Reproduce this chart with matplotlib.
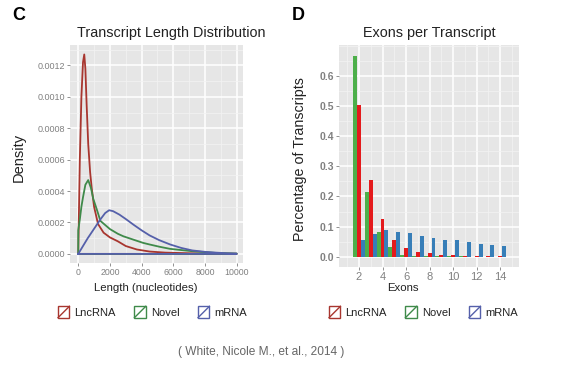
import matplotlib
matplotlib.use("Agg")
import matplotlib.pyplot as plt
from matplotlib.patches import Rectangle
from matplotlib.lines import Line2D
from matplotlib.legend_handler import HandlerBase
from matplotlib.ticker import MultipleLocator, FixedLocator
import numpy as np

plt.rcParams['font.family'] = ['Liberation Sans', 'DejaVu Sans']

# ---------------- data ----------------
series_names = ["LncRNA", "Novel", "mRNA"]

lnc_len_x = [0, 50, 100, 200, 300, 380, 450, 530, 630, 750, 850, 1000, 1250, 1600,
             2000, 2500, 3000, 3700, 4500, 5500, 7000, 8500, 10000]
lnc_len_y = [0, 0.0003, 0.0006, 0.00100, 0.00122, 0.00127, 0.00118, 0.00095, 0.00070,
             0.00052, 0.00042, 0.00030, 0.00019, 0.000135, 0.000105, 0.00008, 0.00005,
             0.000028, 0.000015, 0.000008, 0.000004, 0.000002, 0.000001]

novel_len_x = [0, 0, 100, 200, 300, 450, 630, 800, 950, 1150, 1400, 2000, 2500, 2850,
               3500, 4100, 4500, 5150, 5800, 7200, 8700, 10000]
novel_len_y = [0, 0.00015, 0.00022, 0.00030, 0.00036, 0.00044, 0.00047, 0.00042,
               0.00035, 0.00029, 0.00021, 0.000158, 0.000128, 0.000112, 0.00009, 0.00007,
               0.00006, 0.000045, 0.000032, 0.000017, 0.000006, 0.000002]

mrna_len_x = [0, 300, 600, 1000, 1400, 1700, 1950, 2200, 2600, 3000, 3500, 4000, 4500,
              5100, 5800, 6500, 7200, 8000, 8700, 9400, 10000]
mrna_len_y = [0, 0.00005, 0.0001, 0.00016, 0.00022, 0.00026, 0.000278, 0.000272,
              0.00025, 0.000222, 0.000185, 0.00015, 0.000118, 0.000088, 0.00006,
              0.000038, 0.000022, 0.000013, 0.000008, 0.000004, 0.000002]

exons = [2, 3, 4, 5, 6, 7, 8, 9, 10, 11, 12, 13, 14]
novel_exon_pct = [0.666, 0.214, 0.082, 0.033, 0.006, 0.004, 0.002, 0.001, 0.001,
                  0.001, 0.0005, 0.0005, 0.0005]
lnc_exon_pct = [0.502, 0.256, 0.126, 0.057, 0.028, 0.017, 0.013, 0.006, 0.005,
                0.003, 0.002, 0.002, 0.001]
mrna_exon_pct = [0.055, 0.075, 0.088, 0.082, 0.078, 0.069, 0.061, 0.057, 0.054,
                 0.048, 0.042, 0.038, 0.034]

len_xticks = [0, 2000, 4000, 6000, 8000, 10000]
len_yticks = [0.0, 0.0002, 0.0004, 0.0006, 0.0008, 0.0010, 0.0012]
exon_xticks = [2, 4, 6, 8, 10, 12, 14]
exon_yticks = [0.0, 0.1, 0.2, 0.3, 0.4, 0.5, 0.6]

# ---------------- style ----------------
line_cols = ["#a8362f", "#3f8a4a", "#5560aa"]
bar_cols = {"LncRNA": "#e41a1c", "Novel": "#4daf4a", "mRNA": "#377eb8"}
panel_bg = "#e6e6e6"
tick_col = "#808080"

W, H = 562, 365
fig = plt.figure(figsize=(W / 100, H / 100), dpi=100)


def fx(px):
    return px / W


def fy(py):
    return 1 - py / H


def style_axes(ax):
    ax.set_facecolor(panel_bg)
    for s in ax.spines.values():
        s.set_visible(False)
    ax.grid(which="major", color="white", linewidth=1.1)
    ax.grid(which="minor", color="#f3f3f3", linewidth=0.5)
    ax.set_axisbelow(True)
    ax.tick_params(which="major", length=2, width=0.6, color=tick_col,
                   labelcolor=tick_col, pad=1.5)
    ax.tick_params(which="minor", length=0)


# ---------------- panel C ----------------
axC = fig.add_axes([fx(70), fy(263), fx(243) - fx(70), fy(45) - fy(263)])
style_axes(axC)
for xs, ys, c in zip([lnc_len_x, novel_len_x, mrna_len_x],
                     [lnc_len_y, novel_len_y, mrna_len_y], line_cols):
    xx = list(xs) + [xs[-1], xs[0]]
    yy = list(ys) + [0, 0]
    axC.plot(xx, yy, color=c, linewidth=1.3, solid_joinstyle="round")
axC.set_xlim(-520, 10400)
axC.set_ylim(-0.000058, 0.00133)
axC.xaxis.set_major_locator(FixedLocator(len_xticks))
axC.xaxis.set_minor_locator(MultipleLocator(1000))
axC.yaxis.set_major_locator(FixedLocator(len_yticks))
axC.yaxis.set_minor_locator(MultipleLocator(0.0001))
axC.set_xticklabels([str(v) for v in len_xticks], fontsize=6.3)
axC.set_yticklabels(["%.4f" % v for v in len_yticks], fontsize=6.5)

# ---------------- panel D ----------------
axD = fig.add_axes([fx(339), fy(267), fx(519) - fx(339), fy(45) - fy(267)])
style_axes(axD)
bw = 1 / 3
ex = np.array(exons, dtype=float)
axD.bar(ex - bw, novel_exon_pct, width=bw, color=bar_cols["Novel"], linewidth=0)
axD.bar(ex, lnc_exon_pct, width=bw, color=bar_cols["LncRNA"], linewidth=0)
axD.bar(ex + bw, mrna_exon_pct, width=bw, color=bar_cols["mRNA"], linewidth=0)
axD.set_xlim(0.3, 15.6)
axD.set_ylim(-0.034, 0.702)
axD.xaxis.set_major_locator(FixedLocator(exon_xticks))
axD.xaxis.set_minor_locator(MultipleLocator(1))
axD.yaxis.set_major_locator(FixedLocator(exon_yticks))
axD.yaxis.set_minor_locator(MultipleLocator(0.05))
axD.set_xticklabels([str(v) for v in exon_xticks], fontsize=8)
axD.set_yticklabels(["%.1f" % v for v in exon_yticks], fontsize=7.5,
                    fontweight="bold")

# ---------------- text ----------------
fig.text(fx(12), fy(15), "C", fontsize=13, fontweight="bold", va="center", ha="left")
fig.text(fx(292), fy(15), "D", fontsize=13, fontweight="bold", va="center", ha="left")
fig.text(fx(171), fy(33), "Transcript Length Distribution", fontsize=10.4,
         ha="center", va="center", color="#222222")
fig.text(fx(429), fy(33), "Exons per Transcript", fontsize=10.4,
         ha="center", va="center", color="#222222")
fig.text(fx(19), fy(157), "Density", fontsize=10.5, rotation=90,
         ha="center", va="center", color="#222222")
fig.text(fx(300), fy(159), "Percentage of Transcripts", fontsize=10.3, rotation=90,
         ha="center", va="center", color="#222222")
fig.text(fx(146), fy(288), "Length (nucleotides)", fontsize=8.2,
         ha="center", va="center", color="#222222")
fig.text(fx(403), fy(288), "Exons", fontsize=8.2,
         ha="center", va="center", color="#222222")
fig.text(fx(261), fy(352), "( White, Nicole M., et al., 2014 )", fontsize=8.6,
         ha="center", va="center", color="#666666")


# ---------------- legends ----------------
class DiagBoxHandler(HandlerBase):
    def create_artists(self, legend, orig_handle, xdescent, ydescent, width,
                       height, fontsize, trans):
        s = min(width, height)
        x0 = -xdescent + (width - s) / 2
        y0 = -ydescent + (height - s) / 2
        c = orig_handle.get_color()
        r = Rectangle((x0, y0), s, s, facecolor="white", edgecolor=c,
                      linewidth=1.0, transform=trans)
        l = Line2D([x0, x0 + s], [y0, y0 + s], color=c, linewidth=1.0,
                   transform=trans)
        return [r, l]


handles = [Line2D([], [], color=c) for c in line_cols]
for cx in (152, 423):
    fig.legend(handles, series_names, loc="center", ncol=3,
               bbox_to_anchor=(fx(cx), fy(312)), frameon=False,
               handler_map={Line2D: DiagBoxHandler()},
               handlelength=1.2, handleheight=1.2, handletextpad=0.35,
               columnspacing=1.6, fontsize=8, labelcolor="#222222")

fig.savefig("out.png", dpi=100)
